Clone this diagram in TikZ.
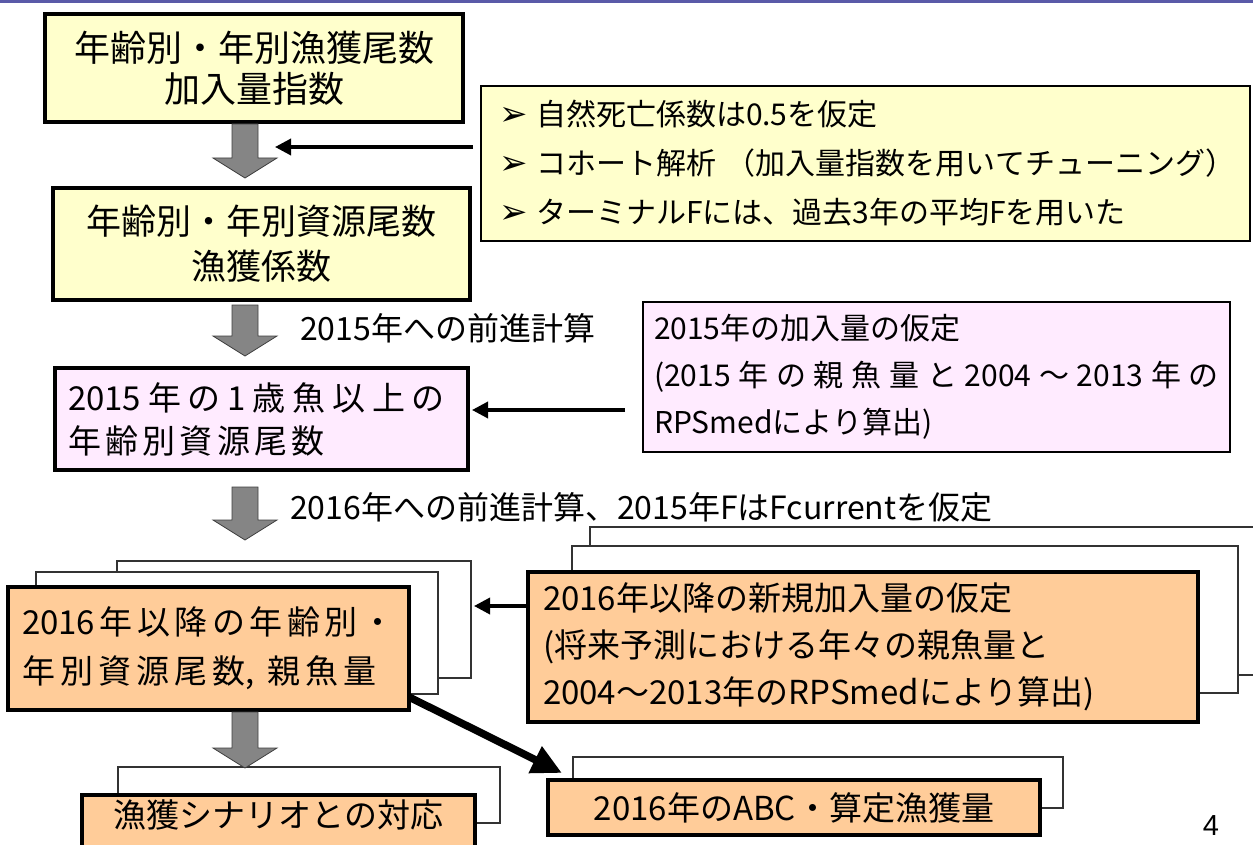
\documentclass[tikz,border=0pt]{standalone}
\usepackage{fontspec}
\setmainfont{Noto Sans CJK JP}
\newfontfamily\dvfont{DejaVu Sans}
\newfontfamily\arialfont{Liberation Sans}
\usetikzlibrary{arrows.meta,calc}
\definecolor{byellow}{HTML}{FFFFCC}
\definecolor{bpink}{HTML}{FFEBFF}
\definecolor{borange}{HTML}{FFCC99}
\definecolor{topblue}{HTML}{5A5AA8}
\definecolor{agray}{HTML}{858585}
\definecolor{aedge}{HTML}{404040}
\newcommand{\fs}[2]{\fontsize{#1pt}{#2pt}\selectfont}
\newcommand{\bul}{\makebox[37pt][l]{\dvfont\fontsize{34pt}{34pt}\selectfont ➢}}
\newcommand{\grayarr}[3]{\draw[garrow] (#1-13,#2) -- (#1+13,#2) -- (#1+13,#3-20) -- (#1+32,#3-20) -- (#1,#3) -- (#1-32,#3-20) -- (#1-13,#3-20) -- cycle;}
\begin{document}
\begin{tikzpicture}[x=1pt,y=-1pt,
  every node/.style={inner sep=0pt, outer sep=0pt, anchor=north west},
  thickbox/.style={draw=black, line width=4pt},
  thinbox/.style={draw=black, line width=1.5pt},
  backbox/.style={draw=black!80, line width=1.3pt, fill=white},
  garrow/.style={fill=agray, draw=aedge, line width=0.8pt},
  barrow/.style={draw=black, line width=3.5pt, -{Triangle[length=16pt,width=16pt]}},
  bigarrow/.style={draw=black, line width=7.5pt, -{Triangle[length=30pt,width=28pt]}},
  lbl/.style={anchor=west, font=\fs{32}{36}}
]
\useasboundingbox (0,0) rectangle (1253,845);
\fill[white] (0,0) rectangle (1253,845);
\fill[topblue] (0,0) rectangle (1253,3);

% top boxes
\node[thickbox, fill=byellow, minimum width=418pt, minimum height=108pt, align=center, font=\fs{36}{41}] (b1) at (45,14) {年齢別・年別漁獲尾数\\加入量指数};
\node[thinbox, fill=byellow, minimum height=155pt, text width=733pt, inner xsep=18pt, align=left, font=\fs{30}{49}] (info) at (481,86) {\bul 自然死亡係数は0.5を仮定\\\bul コホート解析 （加入量指数を用いてチューニング）\\\bul ターミナルFには、過去3年の平均Fを用いた};
\node[thickbox, fill=byellow, minimum width=417pt, minimum height=112pt, align=center, font=\fs{35}{45}] (b2) at (53,188) {年齢別・年別資源尾数\\漁獲係数};

% 2015 boxes
\node[thickbox, line width=3.5pt, fill=bpink, minimum height=102pt, text width=387pt, inner xsep=13pt, align=left, font=\fs{33}{43}] (b3) at (55,368) {\makebox[377pt][s]{2015\hfil 年\hfil の\hfil 1\hfil 歳\hfil 魚\hfil 以\hfil 上\hfil の}\\\makebox[257pt][s]{年\hfil 齢\hfil 別\hfil 資\hfil 源\hfil 尾\hfil 数}};
\node[draw=black, line width=2.5pt, fill=bpink, minimum height=150pt, text width=565pt, inner xsep=11pt, align=left, font=\fs{30}{47}] (p2) at (643,302) {2015年の加入量の仮定\\\makebox[565pt][s]{(2015\hfil 年\hfil の\hfil 親\hfil 魚\hfil 量\hfil と\hfil 2004\hfil ～\hfil 2013\hfil 年\hfil の}\\RPSmedにより算出)};

% 2016 stacked boxes
\node[backbox, minimum width=354pt, minimum height=117pt] (lbk2) at (117,561) {};
\node[backbox, minimum width=402pt, minimum height=122pt] (lbk1) at (36,572) {};
\node[thickbox, fill=borange, minimum height=123pt, text width=373pt, inner xsep=14pt, align=left, font=\fs{33}{49}] (lf) at (8,587) {\makebox[373pt][s]{2016\hfil 年\hfil 以\hfil 降\hfil の\hfil 年\hfil 齢\hfil 別\hfil ・}\\\makebox[355pt][s]{年\hfil 別\hfil 資\hfil 源\hfil 尾\hfil 数,\hspace{8pt}\hfil 親\hfil 魚\hfil 量}};

\node[backbox, minimum width=680pt, minimum height=148pt] (rbk2) at (590,527) {};
\node[backbox, minimum width=666pt, minimum height=147pt] (rbk1) at (572,546) {};
\node[thickbox, line width=3.5pt, fill=borange, minimum height=150pt, text width=640pt, inner xsep=15pt, align=left, font=\fs{33}{47}] (rf) at (528,572) {2016年以降の新規加入量の仮定\\(将来予測における年々の親魚量と\\2004～2013年のRPSmedにより算出)};

% bottom boxes
\node[backbox, minimum width=382pt, minimum height=56pt] (blbk) at (118,767) {};
\node[thickbox, fill=borange, minimum width=393pt, text height=32.5pt, text depth=27.5pt, font=\fs{33}{40}] (blf) at (82,795) {漁獲シナリオとの対応};
\node[backbox, minimum width=490pt, minimum height=51pt] (brbk) at (573,757) {};
\node[thickbox, line width=3.5pt, fill=borange, minimum width=492pt, minimum height=55pt, font=\fs{33}{40}] (brf) at (548,780) {2016年のABC・算定漁獲量};

% labels
\node[lbl] (l1) at (300,328) {2015年への前進計算};
\node[lbl] (l2) at (290,507) {2016年への前進計算、2015年FはFcurrentを仮定};
\node[anchor=center, font=\arialfont\fs{29}{32}] (pg) at (1211,826) {4};

% gray block arrows
\grayarr{245}{124}{178}
\grayarr{245}{305}{356}
\grayarr{245}{487}{540}
\grayarr{245}{712}{768}

% black arrows
\coordinate (a1) at (275,147);
\draw[barrow] ($(info.west |- a1)+(-8,0)$) -- (a1);
\coordinate (a2) at (625,410);
\draw[barrow] (a2) -- ($(b3.east |- a2)+(4,0)$);
\coordinate (a3) at (474,606);
\draw[barrow] (rf.west |- a3) -- (a3);
\draw[bigarrow] ($(lf.south east)+(0,-13)$) -- ($(brf.north west)+(14,-7)$);
\end{tikzpicture}
\end{document}
